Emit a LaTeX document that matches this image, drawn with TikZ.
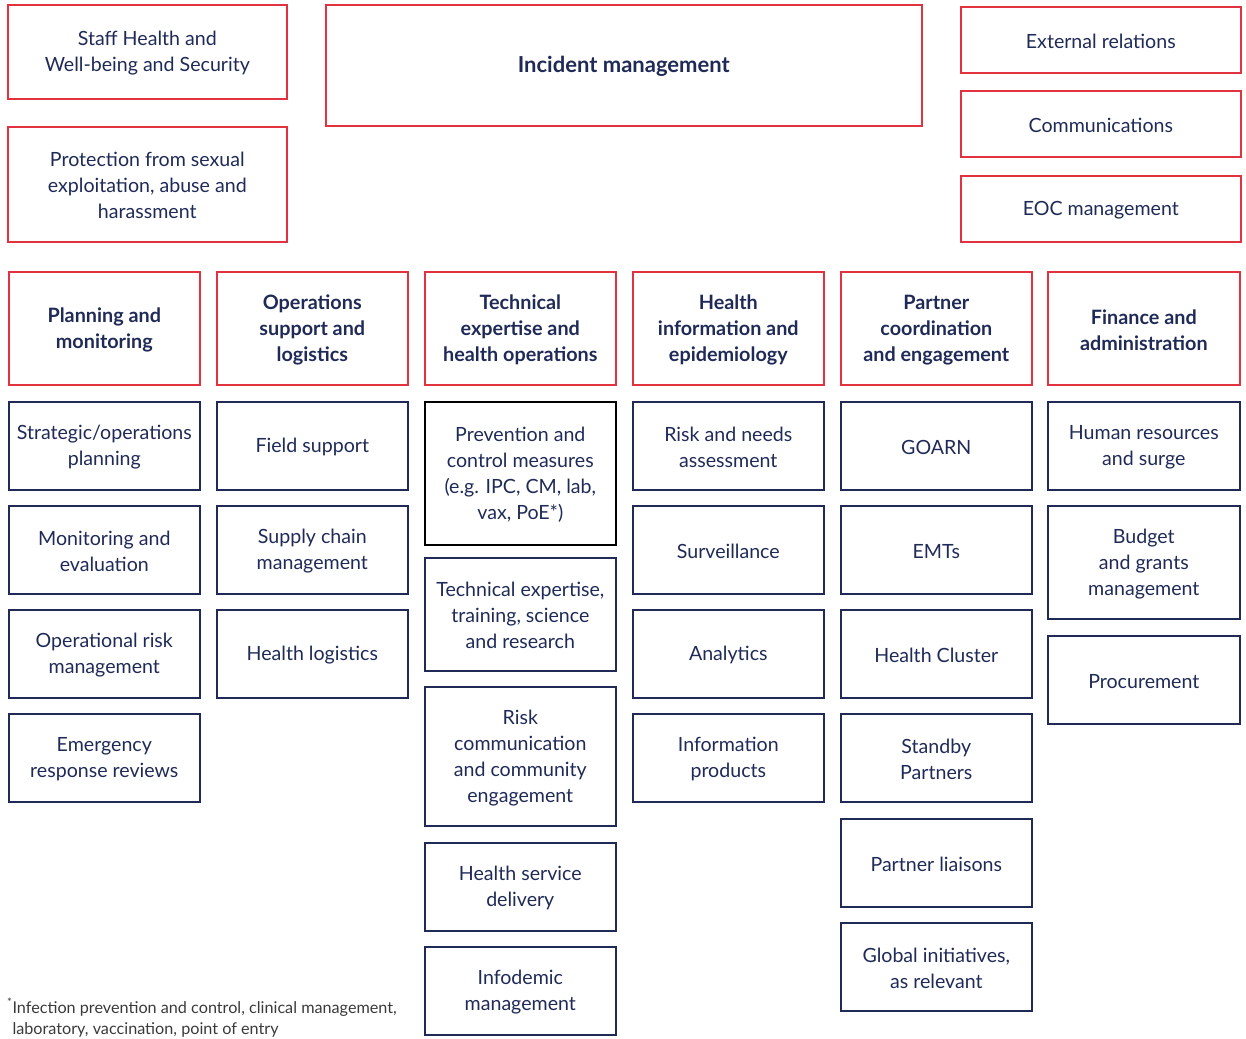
\documentclass[tikz,border=0pt]{standalone}
\usepackage{fontspec}
\setmainfont{Lato}
\definecolor{navy}{HTML}{1F2A57}
\definecolor{wred}{HTML}{E3323F}
\definecolor{note}{HTML}{3A3A3A}
\tikzset{
  box/.style={draw=navy, line width=1.6pt, inner sep=0pt},
  redbox/.style={box, draw=wred},
  blkbox/.style={box, draw=black},
  label/.style={text=navy, align=center, inner sep=0pt,
    font=\fontsize{19.6}{26}\selectfont},
  headlabel/.style={label, font=\fontsize{19.8}{26}\selectfont\bfseries},
  bigheadlabel/.style={label, font=\fontsize{22}{26}\selectfont\bfseries}
}
\newcommand{\bx}[8]{%
  \node[#6, minimum width=#4pt-#2pt, minimum height=#5pt-#3pt, anchor=north west]
    (#1) at (#2pt,-#3pt) {};
  \node[#7] (#1-t) at ([yshift=-1.5pt]#1.center) {#8};}
\begin{document}
\begin{tikzpicture}[x=1pt,y=1pt]
\useasboundingbox (0,0) rectangle (1246,-1038);
% top row
\bx{staff}{7}{4}{286}{98}{redbox}{label}{Staff Health and\\Well-being and Security}
\bx{psea}{7}{126}{286}{241}{redbox}{label}{Protection from sexual\\exploitation, abuse and\\harassment}
\bx{im}{325}{4}{921}{125}{redbox}{bigheadlabel}{Incident management}
\bx{ext}{960}{6}{1240}{72}{redbox}{label}{External relations}
\bx{comm}{960}{90}{1240}{156}{redbox}{label}{Communications}
\bx{eoc}{960}{175}{1240}{241}{redbox}{label}{EOC management}
% headers
\bx{h1}{8}{271}{199}{384}{redbox}{headlabel}{Planning and\\monitoring}
\bx{h2}{216}{271}{407}{384}{redbox}{headlabel}{Operations\\support and\\logistics}
\bx{h3}{424}{271}{615}{384}{redbox}{headlabel}{Technical\\expertise and\\health operations}
\bx{h4}{632}{271}{823}{384}{redbox}{headlabel}{Health\\information and\\epidemiology}
\bx{h5}{840}{271}{1031}{384}{redbox}{headlabel}{Partner\\coordination\\and engagement}
\bx{h6}{1047}{271}{1239}{384}{redbox}{headlabel}{Finance and\\administration}
% column 1
\bx{c11}{8}{401}{199}{489}{box}{label}{Strategic/operations\\planning}
\bx{c12}{8}{505}{199}{593}{box}{label}{Monitoring and\\evaluation}
\bx{c13}{8}{609}{199}{697}{box}{label}{Operational risk\\management}
\bx{c14}{8}{713}{199}{801}{box}{label}{Emergency\\response reviews}
% column 2
\bx{c21}{216}{401}{407}{489}{box}{label}{Field support}
\bx{c22}{216}{505}{407}{593}{box}{label}{Supply chain\\management}
\bx{c23}{216}{609}{407}{697}{box}{label}{Health logistics}
% column 3
\bx{c31}{424}{401}{615}{544}{blkbox}{label}{Prevention and\\control measures\\(e.g. IPC, CM, lab,\\vax, PoE*)}
\bx{c32}{424}{557}{615}{670}{box}{label}{Technical expertise,\\training, science\\and research}
\bx{c33}{424}{686}{615}{825}{box}{label}{Risk\\communication\\and community\\engagement}
\bx{c34}{424}{842}{615}{930}{box}{label}{Health service\\delivery}
\bx{c35}{424}{946}{615}{1034}{box}{label}{Infodemic\\management}
% column 4
\bx{c41}{632}{401}{823}{489}{box}{label}{Risk and needs\\assessment}
\bx{c42}{632}{505}{823}{593}{box}{label}{Surveillance}
\bx{c43}{632}{609}{823}{697}{box}{label}{Analytics}
\bx{c44}{632}{713}{823}{801}{box}{label}{Information\\products}
% column 5
\bx{c51}{840}{401}{1031}{489}{box}{label}{GOARN}
\bx{c52}{840}{505}{1031}{593}{box}{label}{EMTs}
\bx{c53}{840}{609}{1031}{697}{box}{label}{Health Cluster}
\bx{c54}{840}{713}{1031}{801}{box}{label}{Standby\\Partners}
\bx{c55}{840}{818}{1031}{906}{box}{label}{Partner liaisons}
\bx{c56}{840}{922}{1031}{1010}{box}{label}{Global initiatives,\\as relevant}
% column 6
\bx{c61}{1047}{401}{1239}{489}{box}{label}{Human resources\\and surge}
\bx{c62}{1047}{505}{1239}{618}{box}{label}{Budget\\and grants\\management}
\bx{c63}{1047}{635}{1239}{723}{box}{label}{Procurement}
% footnote
\node[anchor=north west, align=left, inner sep=0pt, text=note,
  font=\fontsize{16.2}{21}\selectfont] (fn) at (7,-998)
  {\textsuperscript{*}Infection prevention and control, clinical management,\\
   \hphantom{\textsuperscript{*}}laboratory, vaccination, point of entry};
\end{tikzpicture}
\end{document}
